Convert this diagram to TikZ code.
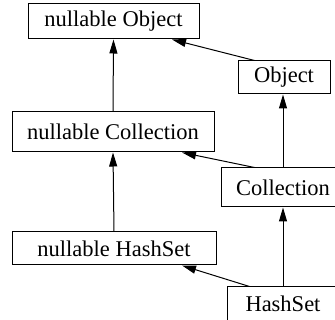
\documentclass[tikz,border=0pt]{standalone}
\usepackage{fontspec}
\setmainfont{Liberation Serif}
\usetikzlibrary{arrows.meta}
\begin{document}
\begin{tikzpicture}[x=1pt,y=-1pt,
  cls/.style={draw,line width=1pt,inner sep=0pt,font=\fontsize{22.5}{26}\selectfont},
  inh/.style={-{Triangle[length=14pt,width=8pt]},line width=1pt}]

\useasboundingbox (0,0) rectangle (335,320);
\clip (0,0) rectangle (335,320);

\node[cls,minimum width=171pt,minimum height=35pt] (nobj) at (113.5,21.5) {nullable Object};
\node[cls,minimum width=92pt,minimum height=33pt] (obj) at (284,77.5) {Object};
\node[cls,minimum width=202pt,minimum height=40pt] (ncol) at (113,132) {nullable Collection};
\node[cls,minimum width=124pt,minimum height=39pt] (col) at (283,187.5) {Collection};
\node[cls,minimum width=204pt,minimum height=33pt] (nhs) at (114,248.5) {nullable HashSet};
\node[cls,minimum width=112pt,minimum height=34pt] (hs) at (283,304) {HashSet};

\draw[inh] (ncol.north) -- (nobj.south);
\draw[inh] (nhs.north) -- (ncol.south);
\draw[inh] (col.north) -- (col.north |- obj.south);
\draw[inh] (hs.north) -- (col.south);
\draw[inh] ([xshift=17pt]obj.north west) -- ([xshift=58.5pt]nobj.south);
\draw[inh] ([xshift=34pt]col.north west) -- ([xshift=69pt]ncol.south);
\draw[inh] ([xshift=23pt]hs.north west) -- ([xshift=68pt]nhs.south);

\end{tikzpicture}
\end{document}
